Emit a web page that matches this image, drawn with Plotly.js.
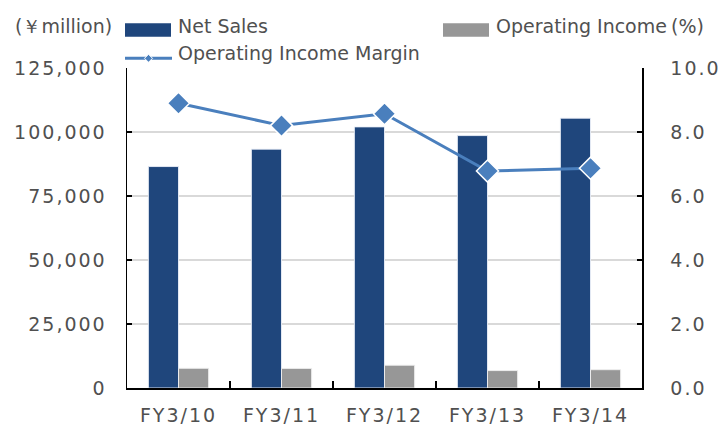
<!DOCTYPE html>
<html>
<head>
<meta charset="utf-8">
<script src="https://cdn.plot.ly/plotly-3.0.1.min.js"></script>
<style>
html,body{margin:0;padding:0;background:#fff;}
#chart{width:721px;height:428px;}
.xtick text{letter-spacing:2px;}
.ytick text,.y2tick text{letter-spacing:2px;}
</style>
</head>
<body>
<div id="chart"></div>
<script>
// ---- data ----
var categories = ["FY3/10", "FY3/11", "FY3/12", "FY3/13", "FY3/14"];
var netSales = [86500, 93300, 102000, 98600, 105400];          // ¥ million
var operatingIncome = [7700, 7650, 8900, 6800, 7150];          // ¥ million
var operatingMargin = [8.9, 8.2, 8.57, 6.78, 6.87];            // %
var leftTickVals = [0, 25000, 50000, 75000, 100000, 125000];
var rightTickVals = [0, 2, 4, 6, 8, 10];

var textColor = "#505050";
var font = "DejaVu Sans, Noto Sans, sans-serif";

// plot-area pixel geometry -> paper coordinates helpers
var L = 127, R = 642, T = 68, B = 388;
function px(x){ return (x - L) / (R - L); }
function py(y){ return (B - y) / (B - T); }

var traces = [
  {
    type: "bar", name: "Net Sales", x: categories, y: netSales,
    marker: {color: "#1f467c", line: {color: "rgba(235,240,248,0.9)", width: 1}},
    yaxis: "y", showlegend: false
  },
  {
    type: "bar", name: "Operating Income", x: categories, y: operatingIncome,
    marker: {color: "#979797", line: {color: "rgba(240,240,240,0.9)", width: 1}},
    yaxis: "y", showlegend: false
  },
  {
    type: "scatter", mode: "lines+markers", name: "Operating Income Margin",
    x: categories, y: operatingMargin, yaxis: "y2",
    line: {color: "#4a7fbd", width: 3},
    marker: {symbol: "diamond", size: 17, color: "#4a7fbd", line: {color: "#ffffff", width: 1.5}},
    showlegend: false, cliponaxis: false
  }
];

var layout = {
  width: 721, height: 428,
  margin: {l: L, r: 721 - R, t: T, b: 428 - B},
  paper_bgcolor: "#ffffff", plot_bgcolor: "#ffffff",
  font: {family: font, size: 19, color: textColor},
  barmode: "group", bargap: 0.415, bargroupgap: 0,
  showlegend: false,
  xaxis: {
    type: "category", showline: true, linecolor: "#000000", linewidth: 2,
    ticks: "inside", tickson: "boundaries", ticklen: 7, tickwidth: 1.5, tickcolor: "#000000",
    showgrid: false, zeroline: false,
    tickfont: {family: font, size: 19, color: textColor},
    ticklabelstandoff: 9
  },
  yaxis: {
    range: [0, 125000], tickvals: leftTickVals, tickformat: ",d",
    showline: true, linecolor: "#000000", linewidth: 1.5,
    ticks: "inside", ticklen: 5, tickwidth: 1.5, tickcolor: "#000000",
    showgrid: true, gridcolor: "#d9d9d9", gridwidth: 1.5, zeroline: false,
    tickfont: {family: font, size: 19, color: textColor},
    ticklabelstandoff: 15
  },
  yaxis2: {
    overlaying: "y", side: "right", range: [0, 10], tickvals: rightTickVals, tickformat: ".1f",
    showline: true, linecolor: "#000000", linewidth: 1.5,
    ticks: "inside", ticklen: 5, tickwidth: 1.5, tickcolor: "#000000",
    showgrid: false, zeroline: false,
    tickfont: {family: font, size: 19, color: textColor},
    ticklabelstandoff: 23
  },
  shapes: [
    {type: "rect", xref: "paper", yref: "paper", x0: px(125), x1: px(171), y0: py(36.7), y1: py(23.3),
     fillcolor: "#1f467c", line: {width: 0}},
    {type: "rect", xref: "paper", yref: "paper", x0: px(443), x1: px(489), y0: py(36.7), y1: py(23.3),
     fillcolor: "#979797", line: {width: 0}},
    {type: "line", xref: "paper", yref: "paper", x0: px(125), x1: px(172), y0: py(58.3), y1: py(58.3),
     line: {color: "#4a7fbd", width: 3}},
    {type: "path", xref: "paper", yref: "paper", xsizemode: "pixel", ysizemode: "pixel",
     xanchor: px(148.5), yanchor: py(58.3), path: "M -4 0 L 0 4 L 4 0 L 0 -4 Z",
     fillcolor: "#4a7fbd", line: {color: "#ffffff", width: 1}}
  ],
  annotations: [
    {xref: "paper", yref: "paper", x: px(114), y: py(25.5), xanchor: "right", yanchor: "middle",
     text: "(￥million)", showarrow: false, font: {family: font, size: 19, color: textColor}},
    {xref: "paper", yref: "paper", x: px(176), y: py(25.5), xanchor: "left", yanchor: "middle",
     text: "Net Sales", showarrow: false, font: {family: font, size: 19, color: textColor}},
    {xref: "paper", yref: "paper", x: px(494), y: py(25.5), xanchor: "left", yanchor: "middle",
     text: "Operating Income", showarrow: false, font: {family: font, size: 19, color: textColor}},
    {xref: "paper", yref: "paper", x: px(706), y: py(25.5), xanchor: "right", yanchor: "middle",
     text: "(%)", showarrow: false, font: {family: font, size: 19, color: textColor}},
    {xref: "paper", yref: "paper", x: px(176), y: py(53.5), xanchor: "left", yanchor: "middle",
     text: "Operating Income Margin", showarrow: false, font: {family: font, size: 19, color: textColor}}
  ]
};

Plotly.newPlot("chart", traces, layout, {staticPlot: true, displayModeBar: false});
</script>
</body>
</html>
